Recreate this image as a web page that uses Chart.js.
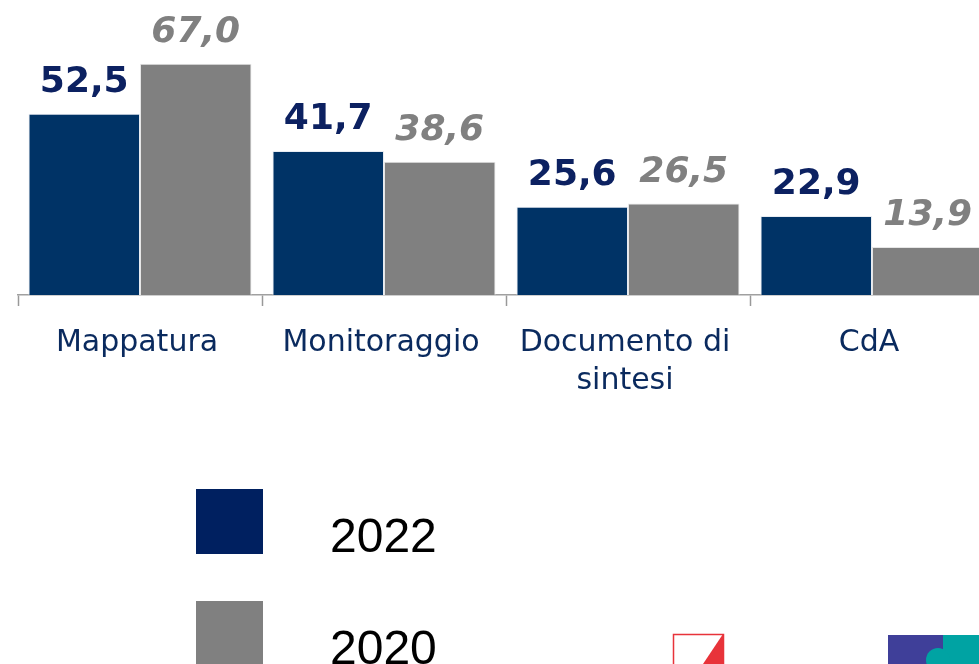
<!DOCTYPE html>
<html>
<head>
<meta charset="utf-8">
<script src="https://cdn.jsdelivr.net/npm/chart.js@4"></script>
<style>
  html, body { margin: 0; padding: 0; background: #fff; overflow: hidden; }
  #wrap { position: absolute; left: 0; top: 0; width: 1000px; height: 664px; }
</style>
</head>
<body>
<div id="wrap"><canvas id="barChart"></canvas></div>
<script>
// --- data ---
const categories = ["Mappatura", "Monitoraggio", ["Documento di", "sintesi"], "CdA"];
const values2022 = [52.5, 41.7, 25.6, 22.9];
const values2020 = [67.0, 38.6, 26.5, 13.9];
const seriesLabels = ["2022", "2020"];

const NAVY = "#003366";
const GREY = "#808080";

function fmt(v) {
  return v.toFixed(1).replace(".", ",");
}

// value labels above the bars
const valueLabels = {
  id: "valueLabels",
  afterDatasetsDraw(chart) {
    const ctx = chart.ctx;
    chart.data.datasets.forEach((ds, i) => {
      const meta = chart.getDatasetMeta(i);
      ctx.save();
      ctx.font = (i === 1 ? "italic " : "") + "bold 36px 'DejaVu Sans'";
      ctx.fillStyle = ds.labelColor;
      ctx.textAlign = "center";
      ctx.textBaseline = "alphabetic";
      meta.data.forEach((bar, j) => {
        ctx.fillText(fmt(ds.data[j]), bar.x, bar.y - 22);
      });
      ctx.restore();
    });
  }
};

// big vertical legend + logo corners at the bottom
const bottomLegend = {
  id: "bottomLegend",
  afterDraw(chart) {
    const ctx = chart.ctx;
    ctx.save();
    chart.data.datasets.forEach((ds, i) => {
      const y = 489 + i * 112;
      ctx.fillStyle = ds.legendColor;
      ctx.fillRect(196, y, 67, 65);
      ctx.fillStyle = "#000";
      ctx.font = "48px 'Liberation Sans'";
      ctx.textBaseline = "alphabetic";
      ctx.textAlign = "left";
      ctx.fillText(ds.label, 330, y + 63);
    });

    // logos (partly cut off at the bottom edge)
    ctx.strokeStyle = "#e8333a";
    ctx.lineWidth = 1.5;
    ctx.strokeRect(673.5, 634.5, 50, 40);
    ctx.fillStyle = "#e8333a";
    ctx.beginPath();
    ctx.moveTo(723, 634);
    ctx.lineTo(723, 664);
    ctx.lineTo(703, 664);
    ctx.closePath();
    ctx.fill();

    ctx.fillStyle = "#3f3f99";
    ctx.fillRect(888, 635, 56, 30);
    ctx.fillStyle = "#00a3a3";
    ctx.fillRect(943, 635, 40, 30);
    ctx.beginPath();
    ctx.arc(938, 660, 12, 0, Math.PI * 2);
    ctx.fill();
    ctx.restore();
  }
};

const ctx = document.getElementById("barChart").getContext("2d");
new Chart(ctx, {
  type: "bar",
  data: {
    labels: categories,
    datasets: [
      {
        label: seriesLabels[0],
        data: values2022,
        backgroundColor: NAVY,
        borderColor: "#e8ecf2",
        borderWidth: 1,
        labelColor: "#0c2161",
        legendColor: "#002060"
      },
      {
        label: seriesLabels[1],
        data: values2020,
        backgroundColor: GREY,
        borderColor: "#e6e6e6",
        borderWidth: 1,
        labelColor: "#808080",
        legendColor: "#808080"
      }
    ]
  },
  options: {
    responsive: true,
    maintainAspectRatio: false,
    animation: false,
    layout: { padding: { left: 18, right: 6, top: 0, bottom: 0 } },
    datasets: {
      bar: { categoryPercentage: 0.914, barPercentage: 1.0 }
    },
    scales: {
      x: {
        offset: true,
        grid: {
          offset: true,
          drawOnChartArea: false,
          drawTicks: true,
          tickLength: 11,
          tickWidth: 1.5,
          tickColor: "#999999",
          color: "#999999"
        },
        border: { display: true, color: "#a0a0a0", width: 1.5 },
        ticks: {
          color: "#0a2a5e",
          font: { family: "'DejaVu Sans'", size: 30, lineHeight: 1.28 },
          padding: 18,
          labelOffset: -3,
          maxRotation: 0,
          autoSkip: false
        },
        afterFit(scale) { scale.height = 369; }
      },
      y: {
        display: false,
        min: 0,
        max: 85.5
      }
    },
    plugins: {
      legend: { display: false },
      tooltip: { enabled: false }
    }
  },
  plugins: [valueLabels, bottomLegend]
});
</script>
</body>
</html>
